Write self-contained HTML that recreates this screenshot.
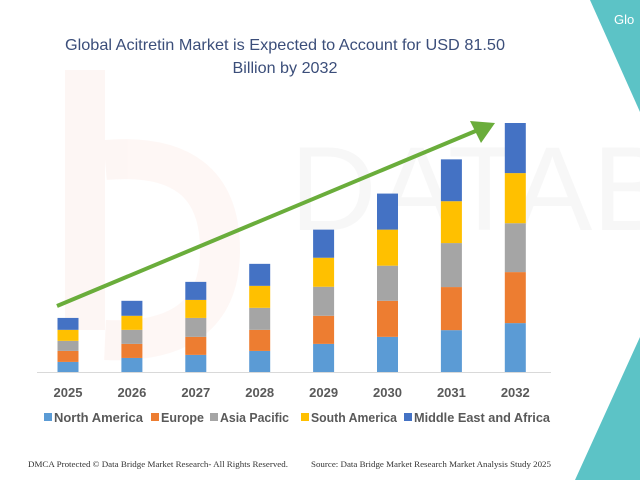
<!DOCTYPE html>
<html><head><meta charset="utf-8"><style>
html,body{margin:0;padding:0;background:#fff;}
svg{display:block;font-family:"Liberation Sans",sans-serif;}
</style></head><body>
<svg id="chart" width="640" height="480" viewBox="0 0 640 480">
<g opacity="0.045">
<rect x="65" y="70" width="40" height="260" fill="#e8501e"/>
<path d="M105 160 Q220 150 220 250 Q220 345 105 340" fill="none" stroke="#e8501e" stroke-width="40"/>
<text x="290" y="230" font-size="120" fill="#555">DATABR</text>
</g>
<polygon points="590,0 640,0 640,112" fill="#5cc3c6"/>
<text x="614" y="24" font-size="13" fill="#fff">Glo</text>
<polygon points="640,337 640,480 575,480" fill="#5cc3c6"/>
<text x="285" y="50" text-anchor="middle" font-size="16" fill="#3b4e7a" textLength="440" lengthAdjust="spacingAndGlyphs">Global Acitretin Market is Expected to Account for USD 81.50</text>
<text x="285" y="73" text-anchor="middle" font-size="16" fill="#3b4e7a" textLength="105" lengthAdjust="spacingAndGlyphs">Billion by 2032</text>
<line x1="37" y1="372.5" x2="551" y2="372.5" stroke="#d9d9d9" stroke-width="1"/>
<g id="bars"></g>
<g id="labels"></g>
<g id="legend"></g>
<line x1="57" y1="306" x2="478" y2="130" stroke="#6aad3b" stroke-width="4"/>
<polygon points="495,123 470,121 481,143" fill="#6aad3b"/>
<text x="28" y="467" font-family="Liberation Serif,serif" font-size="8.5" fill="#333" textLength="260" lengthAdjust="spacingAndGlyphs">DMCA Protected © Data Bridge Market Research-  All Rights Reserved.</text>
<text x="311" y="467" font-family="Liberation Serif,serif" font-size="8.5" fill="#333" textLength="240" lengthAdjust="spacingAndGlyphs">Source: Data Bridge Market Research Market Analysis Study 2025</text>
</svg>
<script>
const categories = ["2025","2026","2027","2028","2029","2030","2031","2032"];
const seriesNames = ["North America","Europe","Asia Pacific","South America","Middle East and Africa"];
const northAmerica = [3.3,4.6,5.6,6.9,9.2,11.5,13.7,16.0];
const europe = [3.6,4.6,5.9,6.9,9.2,11.8,14.1,16.7];
const asiaPacific = [3.3,4.6,6.2,7.2,9.5,11.5,14.4,16.0];
const southAmerica = [3.6,4.6,5.9,7.2,9.5,11.8,13.7,16.4];
const middleEastAfrica = [3.9,4.9,5.9,7.2,9.2,11.8,13.7,16.4];
const series = [northAmerica,europe,asiaPacific,southAmerica,middleEastAfrica];
const colors = ["#5b9bd5","#ed7d31","#a5a5a5","#ffc000","#4472c4"];
const NS="http://www.w3.org/2000/svg";
const baseY=372, pxPerUnit=249/81.5, x0=68, step=63.9, bw=21;
const yScale=v=>v*pxPerUnit;
const xScale=i=>x0+i*step;
const bars=document.getElementById('bars');
categories.forEach((c,i)=>{
  let acc=0;
  series.forEach((s,k)=>{
    const h=yScale(s[i]);
    const r=document.createElementNS(NS,'rect');
    r.setAttribute('x',xScale(i)-bw/2);
    r.setAttribute('y',baseY-yScale(acc)-h);
    r.setAttribute('width',bw);
    r.setAttribute('height',h);
    r.setAttribute('fill',colors[k]);
    
    
    bars.appendChild(r);
    acc+=s[i];
  });
  const t=document.createElementNS(NS,'text');
  t.setAttribute('x',xScale(i));
  t.setAttribute('y',397);
  t.setAttribute('text-anchor','middle');
  t.setAttribute('font-size','13');
  t.setAttribute('font-weight','bold');
  t.setAttribute('fill','#595959');
  t.textContent=c;
  
  
  document.getElementById('labels').appendChild(t);
});
const lg=document.getElementById('legend');
const lx=[44,151,210,301,404];
const lw=[89,43,69,86,136];
seriesNames.forEach((n,k)=>{
  const g=document.createElementNS(NS,'g');
  
  
  const r=document.createElementNS(NS,'rect');
  r.setAttribute('x',lx[k]);r.setAttribute('y',413);r.setAttribute('width',8);r.setAttribute('height',8);
  r.setAttribute('fill',colors[k]);
  const t=document.createElementNS(NS,'text');
  t.setAttribute('x',lx[k]+10);t.setAttribute('y',422);
  t.setAttribute('font-size','13');t.setAttribute('font-weight','bold');t.setAttribute('fill','#595959');
  t.setAttribute('textLength',lw[k]);t.setAttribute('lengthAdjust','spacingAndGlyphs');
  t.textContent=n;
  g.appendChild(r);g.appendChild(t);lg.appendChild(g);
});
</script>
</body></html>
